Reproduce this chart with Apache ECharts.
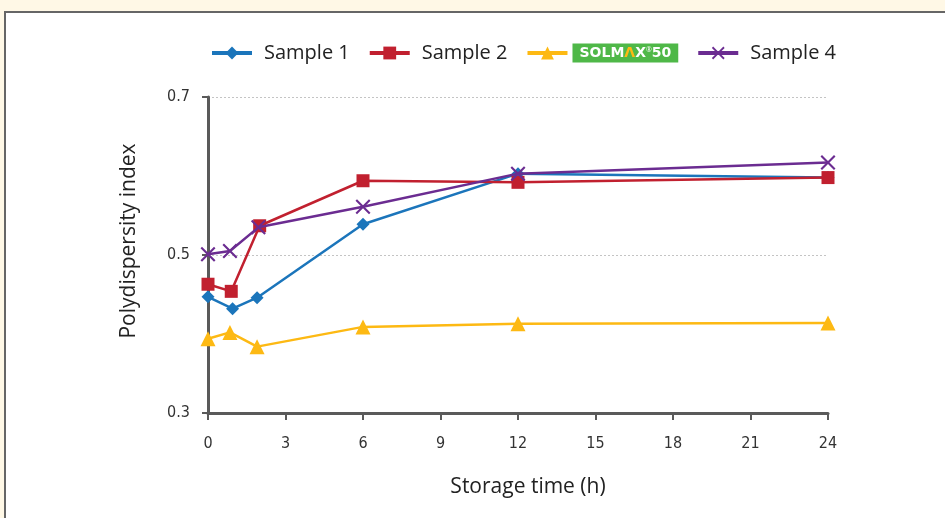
<!DOCTYPE html>
<html>
<head>
<meta charset="utf-8">
<script src="https://cdn.jsdelivr.net/npm/echarts@6/dist/echarts.min.js"></script>
<style>
  html, body { margin: 0; padding: 0; background: #fff8e6; overflow: hidden; width: 945px; height: 518px; }
  #panel { position: absolute; left: 4px; top: 11px; width: 1000px; height: 600px;
           background: #ffffff; border-top: 2px solid #666666; border-left: 2px solid #666666; }
  #chart { position: absolute; left: 0; top: 0; width: 945px; height: 518px; }
</style>
</head>
<body>
<div id="panel"></div>
<div id="chart"></div>
<script>
// ---- data ----
const seriesNames = ['Sample 1', 'Sample 2', 'SOLMAX 50', 'Sample 4'];
const time1 = [0, 0.95, 1.9, 6, 12, 24];
const time2 = [0, 0.9, 2.0, 6, 12, 24];
const time3 = [0, 0.85, 1.9, 6, 12, 24];
const time4 = [0, 0.85, 1.95, 6, 12, 24];
const sample1 = [0.447, 0.432, 0.446, 0.539, 0.603, 0.598];
const sample2 = [0.463, 0.454, 0.537, 0.594, 0.592, 0.598];
const solmax50 = [0.394, 0.402, 0.384, 0.409, 0.413, 0.414];
const sample4 = [0.501, 0.505, 0.535, 0.561, 0.603, 0.617];
const xTicks = [0, 3, 6, 9, 12, 15, 18, 21, 24];
const yTicks = [0.3, 0.5, 0.7];

const colors = ['#1b75bb', '#c1202f', '#fdb913', '#6b2c91'];
const crossPath = 'path://M0,1L1,0L5,4L9,0L10,1L6,5L10,9L9,10L5,6L1,10L0,9L4,5Z';
const symbols = ['diamond', 'rect', 'triangle', crossPath];
const symbolSizes = [13, 13, 15, 15];

function pairs(xs, ys) { return xs.map((x, i) => [x, ys[i]]); }
const allData = [pairs(time1, sample1), pairs(time2, sample2), pairs(time3, solmax50), pairs(time4, sample4)];

const chart = echarts.init(document.getElementById('chart'));
const labelFont = "'Liberation Sans Narrow', 'DejaVu Sans Condensed', 'Roboto', sans-serif";
const titleFont = "'Open Sans', 'Noto Sans', sans-serif";

chart.setOption({
  backgroundColor: 'transparent',
  animation: false,
  color: colors,
  legend: {
    left: 205, top: 38,
    itemWidth: 40, itemHeight: 16, itemGap: 18,
    lineStyle: { width: 4 },
    data: [
      { name: 'Sample 1' },
      { name: 'Sample 2' },
      { name: 'SOLMAX 50', textStyle: { backgroundColor: '#4fb848', padding: [3, 7, 2, 7] } },
      { name: 'Sample 4' }
    ],
    formatter: function (name) {
      if (name === 'SOLMAX 50') return '{w|SOLM}{y|Λ}{w|X}{s|®}{w|50}';
      return name;
    },
    textStyle: {
      fontFamily: titleFont, fontSize: 20, color: '#222', padding: [0, 0, 0, 7],
      rich: {
        w: { color: '#ffffff', fontWeight: 'bold', fontSize: 14, fontFamily: "'DejaVu Sans', sans-serif" },
        y: { color: '#fdb913', fontWeight: 'bold', fontSize: 14, fontFamily: "'DejaVu Sans', sans-serif" },
        s: { color: '#ffffff', fontSize: 7, verticalAlign: 'top' }
      }
    }
  },
  grid: { left: 208, right: 117, top: 97, bottom: 105, containLabel: false },
  xAxis: {
    type: 'value', min: 0, max: 24, interval: 3,
    name: 'Storage time (h)', nameLocation: 'middle', nameGap: 64,
    nameTextStyle: { fontFamily: titleFont, fontSize: 21, color: '#222', padding: [0, 0, 0, 20] },
    axisLine: { show: true, onZero: false, lineStyle: { color: '#5a5a5a', width: 3 } },
    axisTick: { show: true, length: 7, lineStyle: { color: '#5a5a5a', width: 2 } },
    axisLabel: { fontFamily: labelFont, fontSize: 16, color: '#333', margin: 23,
      formatter: function (v) { return xTicks.indexOf(v) >= 0 ? String(v) : ''; } },
    splitLine: { show: false }
  },
  yAxis: {
    type: 'value', min: yTicks[0], max: yTicks[yTicks.length - 1], interval: 0.2,
    name: 'Polydispersity index', nameLocation: 'middle', nameGap: 68, nameRotate: 90,
    nameTextStyle: { fontFamily: titleFont, fontSize: 21, color: '#222', padding: [0, 0, 0, 28] },
    axisLine: { show: true, lineStyle: { color: '#5a5a5a', width: 3 } },
    axisTick: { show: true, length: 6, lineStyle: { color: '#5a5a5a', width: 2 } },
    axisLabel: { fontFamily: labelFont, fontSize: 16, color: '#333', margin: 18,
      formatter: function (v) { return (Math.round(v * 10) / 10).toFixed(1); } },
    splitLine: { show: true, lineStyle: { color: '#c4c4c4', type: [2, 2], width: 1 } }
  },
  series: seriesNames.map((n, i) => ({
    name: n, type: 'line', data: allData[i],
    symbol: symbols[i], symbolSize: symbolSizes[i], showAllSymbol: true,
    clip: false,
    lineStyle: { width: 2.5, color: colors[i] },
    itemStyle: { color: colors[i] },
    z: 3 + i
  }))
});
</script>
</body>
</html>
